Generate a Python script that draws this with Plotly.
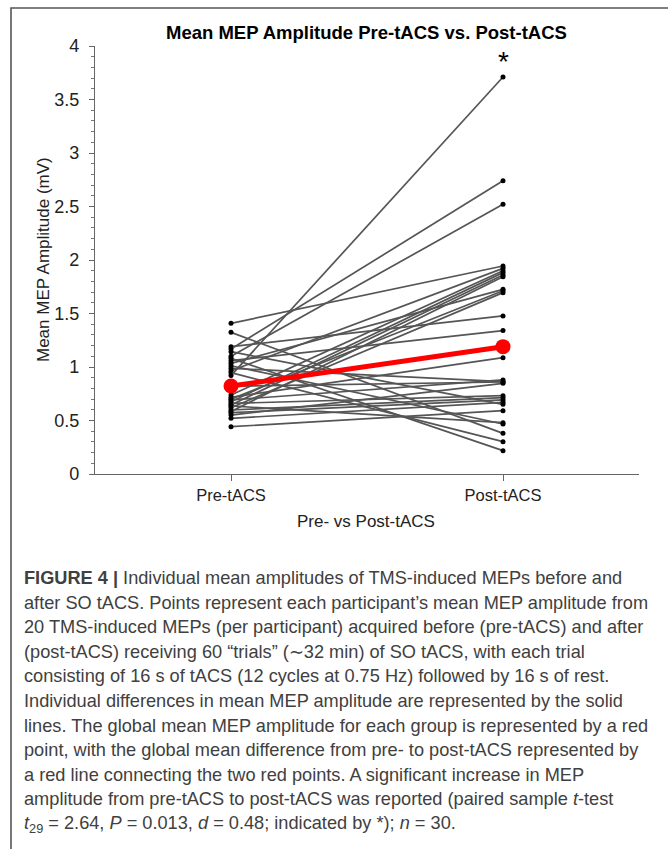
import plotly.graph_objects as go

# ---- data ----
groups = ["Pre-tACS", "Post-tACS"]
group_pos = [1, 2]
pre_vals = [1.408, 1.324, 1.19, 1.168, 1.143, 1.10, 1.081, 1.059, 1.034, 1.012,
            0.988, 0.965, 0.947, 0.92, 0.82, 0.738, 0.717, 0.70, 0.692, 0.675,
            0.66, 0.645, 0.636, 0.62, 0.598, 0.585, 0.573, 0.551, 0.52, 0.442]
post_vals = [1.944, 0.38, 1.477, 2.74, 0.651, 2.52, 0.218, 1.34, 1.726, 0.467,
             0.863, 1.922, 0.302, 3.71, 0.86, 1.90, 1.087, 1.713, 0.879, 1.882,
             0.732, 1.86, 0.48, 1.695, 0.713, 1.844, 0.692, 0.847, 0.67, 0.592]
mean_vals = [0.822, 1.19]
y_ticks = [0, 0.5, 1, 1.5, 2, 2.5, 3, 3.5, 4]
y_ticklabels = ["0", "0.5", "1", "1.5", "2", "2.5", "3", "3.5", "4"]

caption_lines = [
    "<b>FIGURE 4 |</b> Individual mean amplitudes of TMS-induced MEPs before and",
    "after SO tACS. Points represent each participant’s mean MEP amplitude from",
    "20 TMS-induced MEPs (per participant) acquired before (pre-tACS) and after",
    "(post-tACS) receiving 60 “trials” (∼32 min) of SO tACS, with each trial",
    "consisting of 16 s of tACS (12 cycles at 0.75 Hz) followed by 16 s of rest.",
    "Individual differences in mean MEP amplitude are represented by the solid",
    "lines. The global mean MEP amplitude for each group is represented by a red",
    "point, with the global mean difference from pre- to post-tACS represented by",
    "a red line connecting the two red points. A significant increase in MEP",
    "amplitude from pre-tACS to post-tACS was reported (paired sample <i>t</i>-test",
    "<i>t</i><sub>29</sub> = 2.64, <i>P</i> = 0.013, <i>d</i> = 0.48; indicated by *); <i>n</i> = 30.",
]

W, H = 668, 849
L, R, T, B = 95, 639, 46, 474  # plot area in pixels

def px(x):
    return (x - L) / (R - L)

def py(y):
    return (B - y) / (B - T)

FONT = "Liberation Sans, Arial, sans-serif"

fig = go.Figure()

for a, b in zip(pre_vals, post_vals):
    fig.add_trace(go.Scatter(
        x=group_pos, y=[a, b], mode="lines+markers",
        line=dict(color="#555555", width=1.7),
        marker=dict(color="black", size=5),
        hoverinfo="skip", showlegend=False))

fig.add_trace(go.Scatter(
    x=group_pos, y=mean_vals, mode="lines+markers",
    line=dict(color="#ff0000", width=5),
    marker=dict(color="#ff0000", size=15),
    hoverinfo="skip", showlegend=False))

fig.update_layout(
    width=W, height=H,
    margin=dict(l=L, r=W - R, t=T, b=H - B, pad=0),
    paper_bgcolor="white", plot_bgcolor="white",
    showlegend=False,
    xaxis=dict(range=[0.5, 2.5], tickvals=group_pos, ticktext=groups,
               showgrid=False, zeroline=False, showline=True,
               linecolor="#666", linewidth=1.2, ticks="outside", ticklen=6,
               tickcolor="#666", tickfont=dict(family=FONT, size=16.5, color="#222"),
               fixedrange=True),
    yaxis=dict(range=[0, 4], tickvals=y_ticks, ticktext=y_ticklabels,
               showgrid=False, zeroline=False, showline=True,
               linecolor="#666", linewidth=1.2, ticks="outside", ticklen=5,
               tickcolor="#666", tickfont=dict(family=FONT, size=18, color="#222"),
               ticklabelstandoff=6,
               minor=dict(dtick=0.1, ticks="outside", ticklen=3, tickcolor="#777", showgrid=False),
               fixedrange=True),
)

annotations = []
annotations.append(dict(
    text="<b>Mean MEP Amplitude Pre-tACS vs. Post-tACS</b>",
    xref="paper", yref="paper", x=px(366), y=py(33), xanchor="center", yanchor="middle",
    showarrow=False, font=dict(family=FONT, size=18.5, color="black")))
annotations.append(dict(
    text="*", xref="x", yref="y", x=2, y=max(post_vals), xanchor="center",
    yanchor="bottom", yshift=-2, showarrow=False,
    font=dict(family=FONT, size=28, color="black")))
annotations.append(dict(
    text="Mean MEP Amplitude (mV)", xref="paper", yref="paper", x=px(43), y=py(260),
    xanchor="center", yanchor="middle", textangle=-90, showarrow=False,
    font=dict(family=FONT, size=17, color="#222")))
annotations.append(dict(
    text="Pre- vs Post-tACS", xref="paper", yref="paper", x=px(366), y=py(521),
    xanchor="center", yanchor="middle", showarrow=False,
    font=dict(family=FONT, size=17, color="#222")))

y0, dy = 578, 24.6
for i, line in enumerate(caption_lines):
    annotations.append(dict(
        text=line, xref="paper", yref="paper", x=px(22), y=py(y0 + i * dy),
        xanchor="left", yanchor="middle", showarrow=False,
        font=dict(family=FONT, size=18.2, color="#404040")))

fig.update_layout(annotations=annotations)

# outer frame of the figure panel
fig.add_shape(type="rect", xref="paper", yref="paper",
              x0=px(11), x1=px(690), y0=py(880), y1=py(8),
              line=dict(color="#555", width=1.6), fillcolor="rgba(0,0,0,0)", layer="below")

fig.write_html("out.html", config={"displayModeBar": False},
               post_script="document.body.style.margin='0';")
